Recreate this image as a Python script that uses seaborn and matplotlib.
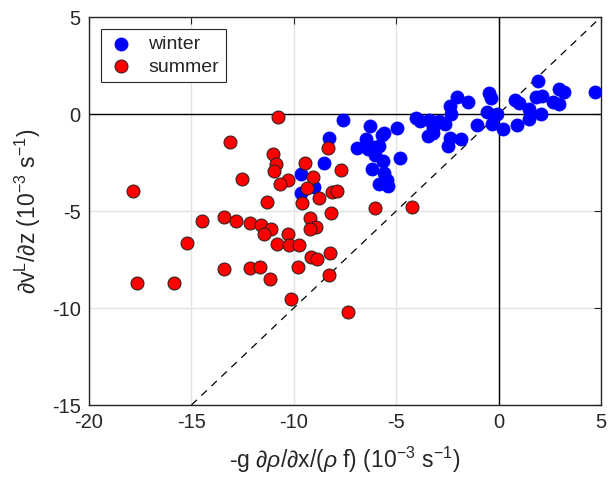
import numpy as np
import pandas as pd
import matplotlib
matplotlib.use("Agg")
import matplotlib.pyplot as plt
import seaborn as sns

# ---- data ----
winter_x = [-7.58, -6.28, -4.94, -5.71, -5.60, -6.49, -8.28, -6.93, -6.36, -5.83,
            -6.04, -5.63, -4.80, -8.53, -6.20, -5.58, -5.43, -5.83, -5.39, -9.67,
            -9.00, -9.67, -4.03, -3.84, -3.38, -3.19, -2.90, -2.62, -3.19, -3.43,
            -3.19, -2.37, -1.85, -2.49, -1.04, -2.02, -1.51, -2.37, -2.34, -0.45,
            -0.39, -0.55, -0.09, -0.34, 0.23, 0.80, 0.99, 0.91, 1.50, 1.50,
            2.05, 1.94, 1.83, 2.10, 2.64, 2.95, 2.96, 3.19, 4.71, -6.12]
winter_y = [-0.31, -0.60, -0.74, -1.08, -1.00, -1.30, -1.25, -1.74, -1.82, -1.63,
            -2.11, -2.42, -2.28, -2.54, -2.82, -3.02, -3.40, -3.63, -3.71, -3.09,
            -3.75, -4.05, -0.19, -0.36, -0.31, -0.40, -0.36, -0.52, -0.74, -1.13,
            -1.00, -1.25, -1.30, -1.65, -0.58, 0.89, 0.64, 0.41, 0.00, 1.07,
            0.81, 0.12, -0.02, -0.52, -0.77, 0.72, 0.58, -0.57, 0.24, -0.27,
            0.00, 1.70, 0.89, 0.94, 0.64, 0.50, 1.27, 1.15, 1.15, -1.68]

summer_x = [-10.76, -13.12, -11.03, -10.87, -10.97, -12.54, -10.30, -10.66, -11.32, -17.87,
            -14.47, -13.42, -12.81, -12.14, -11.62, -11.11, -11.44, -10.27, -15.20, -17.67,
            -15.85, -13.39, -12.14, -11.63, -11.16, -10.15, -10.84, -10.22, -9.73, -9.78,
            -8.31, -9.44, -7.71, -9.08, -9.34, -8.12, -7.88, -8.75, -9.60, -8.18,
            -6.05, -4.24, -9.19, -8.93, -9.21, -9.16, -8.88, -8.23, -8.28, -7.37]
summer_y = [-0.14, -1.43, -2.08, -2.58, -2.92, -3.35, -3.42, -3.63, -4.52, -3.97,
            -5.50, -5.29, -5.53, -5.64, -5.72, -5.93, -6.20, -6.20, -6.67, -8.70,
            -8.70, -7.99, -7.95, -7.90, -8.49, -9.55, -6.72, -6.75, -6.75, -7.87,
            -1.74, -2.54, -2.90, -3.25, -3.83, -4.02, -3.95, -4.31, -4.59, -5.12,
            -4.86, -4.78, -5.38, -5.81, -5.94, -7.35, -7.47, -7.18, -8.30, -10.19]

x_ticks = [-20, -15, -10, -5, 0, 5]
y_ticks = [-15, -10, -5, 0, 5]
one_to_one = [-15, 5]

winter = pd.DataFrame({"x": winter_x, "y": winter_y})
summer = pd.DataFrame({"x": summer_x, "y": summer_y})

sns.set_style("white")
plt.rcParams["font.family"] = ["Liberation Sans", "DejaVu Sans"]
plt.rcParams["axes.unicode_minus"] = False
plt.rcParams["mathtext.fontset"] = "custom"
plt.rcParams["mathtext.rm"] = "Liberation Sans"
plt.rcParams["mathtext.it"] = "Liberation Sans:italic"

fig = plt.figure(figsize=(6.08, 4.78), dpi=100)
ax = fig.add_axes([0.1464, 0.1527, 0.8421, 0.8117])

ax.set_xlim(-20, 5)
ax.set_ylim(-15, 5)
ax.set_xticks(x_ticks)
ax.set_yticks(y_ticks)
ax.grid(True, color="#e3e3e3", linewidth=1.0, zorder=0)
ax.set_axisbelow(True)

ax.axhline(0, color="black", linewidth=1.0, zorder=1)
ax.axvline(0, color="black", linewidth=1.0, zorder=1)
sns.lineplot(x=one_to_one, y=one_to_one, ax=ax, color="black", linewidth=0.9,
             linestyle=(0, (6, 5)), zorder=1)

sns.scatterplot(data=winter, x="x", y="y", ax=ax, color="#0000ff", edgecolor="#0000ff",
                s=88, linewidth=0.6, label="winter", zorder=3)
sns.scatterplot(data=summer, x="x", y="y", ax=ax, color="#ff0000", edgecolor="#222222",
                s=88, linewidth=0.7, label="summer", zorder=4)

for sp in ax.spines.values():
    sp.set_color("#262626")
    sp.set_linewidth(1.0)
    sp.set_visible(True)

ax.tick_params(direction="in", length=5, width=0.8, color="#262626",
               top=True, right=True, labelsize=14.5, pad=6, labelcolor="#262626")

ax.set_xlabel(r"-g $\partial\rho$/$\partial$x/($\rho$ f) (10$^{-3}$ s$^{-1}$)",
              fontsize=16.5, color="#262626", labelpad=9)
ax.set_ylabel(r"$\partial$v$^{\mathrm{L}}$/$\partial$z (10$^{-3}$ s$^{-1}$)",
              fontsize=16.5, color="#262626", labelpad=6)

leg = ax.legend(loc="upper left", fontsize=14, frameon=True, fancybox=False,
                edgecolor="#262626", framealpha=1, handletextpad=0.7,
                borderpad=0.35, labelspacing=0.25, handlelength=1.4,
                bbox_to_anchor=(0.004, 0.995), markerscale=1.0)
leg.get_frame().set_linewidth(0.8)

fig.savefig("out.png", dpi=100)
